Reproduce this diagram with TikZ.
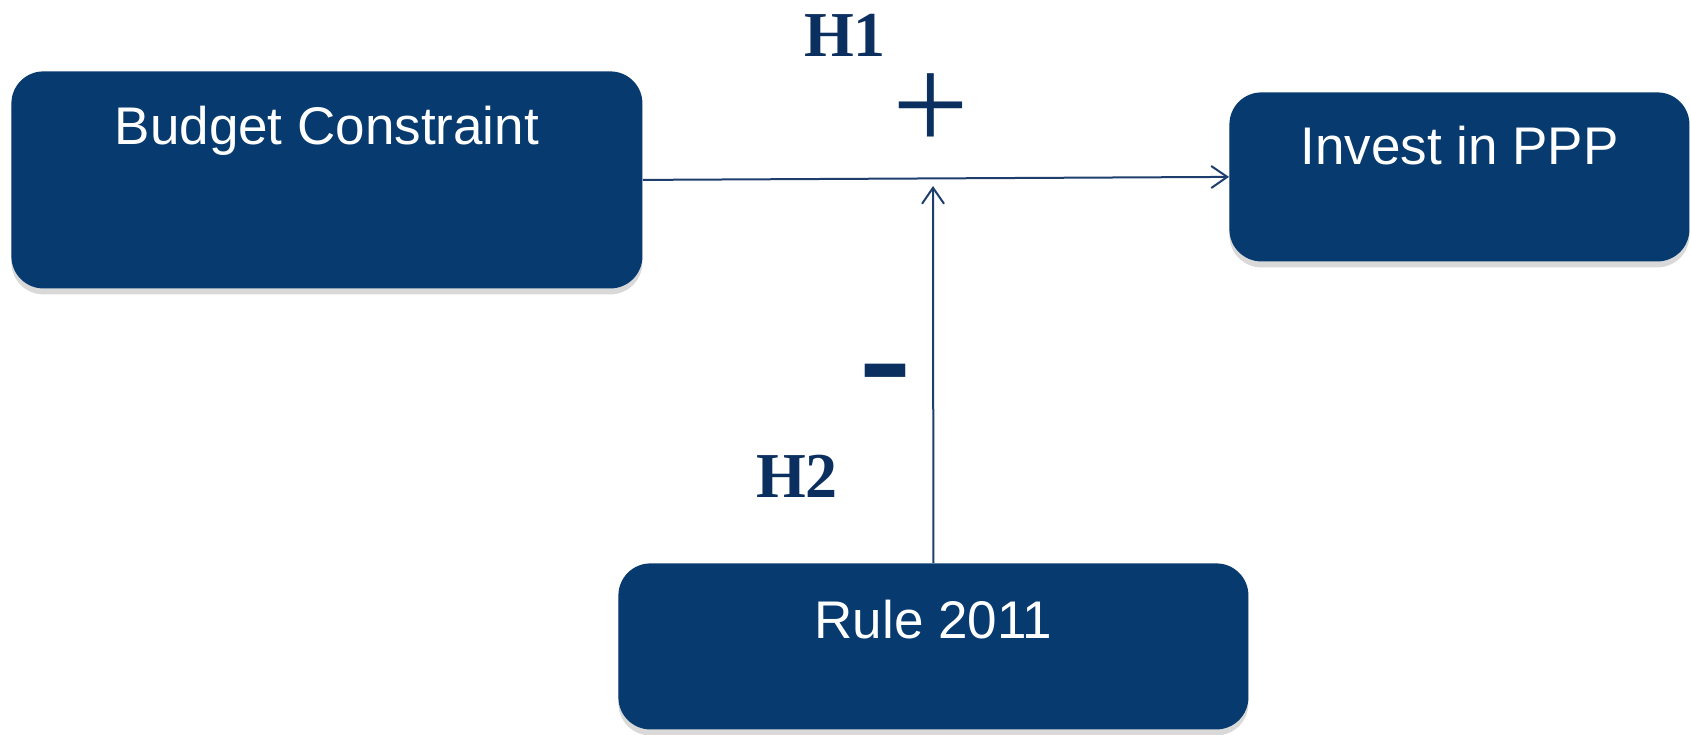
\documentclass[tikz,border=0pt]{standalone}
\usepackage{fontspec}
\setmainfont{Liberation Serif}
\newfontfamily\boxfont{Liberation Sans}
\usetikzlibrary{arrows.meta,shadows}
\definecolor{boxfill}{HTML}{073A6F}
\definecolor{navy}{HTML}{0B2F5E}
\definecolor{wire}{HTML}{1E3F6E}
\tikzset{
  box/.style={fill=boxfill, draw=none, rounded corners=16pt, inner sep=0pt,
    anchor=north west, text=white, font=\boxfont\fontsize{26.5}{30}\selectfont,
    drop shadow={opacity=0.3, shadow xshift=0pt, shadow yshift=-3pt}},
  link/.style={draw=wire, line width=1pt, -{Straight Barb[length=8pt,width=11pt]}},
  hyp/.style={text=navy, inner sep=0pt, font=\fontsize{32}{36}\selectfont\bfseries},
  sign/.style={text=navy, inner sep=0pt},
}

\begin{document}
\begin{tikzpicture}[x=0.5pt,y=-0.5pt]
  \useasboundingbox (0,0) rectangle (1691,734);

  \node[box, minimum width=315.5pt, text height=36.5pt, text depth=72pt] (budget) at (11,71) {Budget Constraint};
  \node[box, minimum width=230pt, text height=36pt, text depth=48.5pt] (invest) at (1229,92) {Invest in PPP};
  \node[box, minimum width=315pt, text height=37.5pt, text depth=45.5pt] (rule) at (618,563) {Rule 2011};

  \coordinate (meet) at (933,186);
  \draw[link] (budget.east) -- (invest.west);
  \draw[link] (rule.north) -- (meet);

  \node[hyp] (h1) at (845,35) {H1};
  \node[hyp] (h2) at (797,476) {H2};
  \node[sign, font=\fontsize{68}{68}\selectfont] (plus) at (931,112) {+};
  \node[sign, font=\fontsize{78}{78}\selectfont\bfseries] (minus) at (885,386) {-};
\end{tikzpicture}
\end{document}
